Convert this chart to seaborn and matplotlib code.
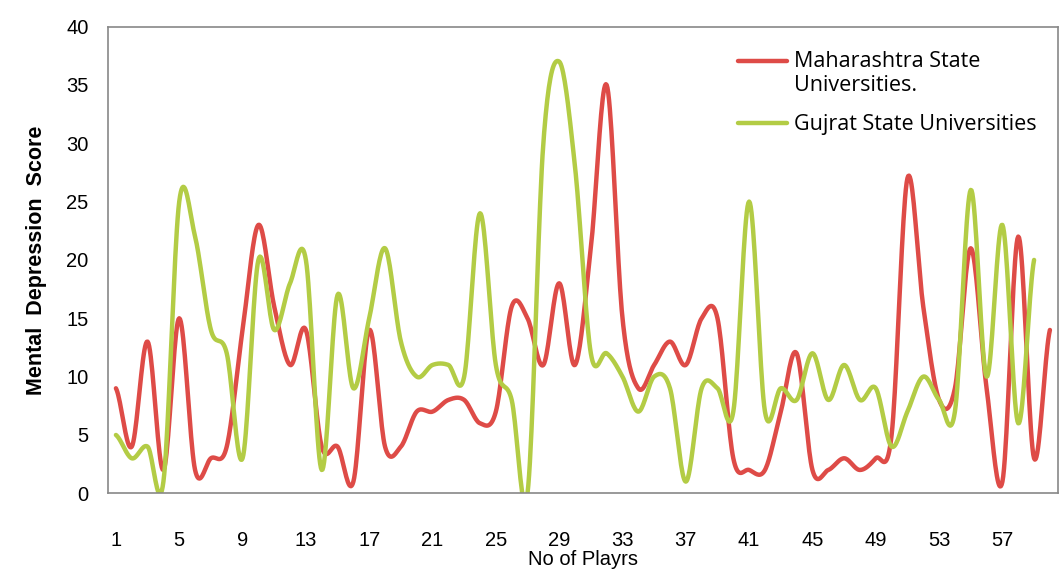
import numpy as np
import pandas as pd
import matplotlib
matplotlib.use("Agg")
import matplotlib.pyplot as plt
import seaborn as sns

# scores, one per player
maharashtra = [9, 4, 13, 2, 15, 2, 3, 4, 14, 23,
               16, 11, 14, 4, 4, 1, 14, 4, 4, 7,
               7, 8, 8, 6, 7, 16, 15, 11, 18, 11,
               21, 35, 15, 9, 11, 13, 11, 15, 15, 3,
               2, 2, 7, 12, 2, 2, 3, 2, 3, 5,
               27, 16, 8, 9, 21, 9, 1, 22, 3, 14]
gujrat = [5, 3, 4, 1, 25, 22, 14, 12, 3, 20,
          14, 18, 20, 2, 17, 9, 15, 21, 13, 10,
          11, 11, 10, 24, 11, 8, 0, 30, 37, 28,
          12, 12, 10, 7, 10, 9, 1, 9, 9, 7,
          25, 7, 9, 8, 12, 8, 11, 8, 9, 4,
          7, 10, 8, 7, 26, 10, 23, 6, 20]
series_names = ["Maharashtra State\nUniversities.", "Gujrat State Universities"]
x_tick_labels = list(range(1, 58, 4))


def smooth(values, steps=20):
    # bezier smoothing like the spreadsheet "smoothed line" option
    y = np.asarray(values, dtype=float)
    yp = np.concatenate([[y[0]], y, [y[-1]]])
    xs, ys = [], []
    t = np.linspace(0, 1, steps, endpoint=False)
    for i in range(len(y) - 1):
        p0 = yp[i + 1]
        p3 = yp[i + 2]
        p1 = p0 + (yp[i + 2] - yp[i]) / 6
        p2 = p3 - (yp[i + 3] - yp[i + 1]) / 6
        ys.extend((1 - t) ** 3 * p0 + 3 * (1 - t) ** 2 * t * p1 + 3 * (1 - t) * t ** 2 * p2 + t ** 3 * p3)
        xs.extend(i + 1 + t)
    xs.append(len(y))
    ys.append(y[-1])
    return xs, ys


frames = []
for name, vals in zip(series_names, [maharashtra, gujrat]):
    xs, ys = smooth(vals)
    frames.append(pd.DataFrame({"player": xs, "score": ys, "series": name}))
df = pd.concat(frames, ignore_index=True)

sns.set_style("white")
plt.rcParams['font.family'] = ['Liberation Sans', 'DejaVu Sans']
plt.rcParams['text.color'] = 'black'
plt.rcParams['axes.labelcolor'] = 'black'
plt.rcParams['xtick.labelcolor'] = 'black'
plt.rcParams['ytick.labelcolor'] = 'black'

fig = plt.figure(figsize=(10.61, 5.74), dpi=100)
ax = fig.add_axes([0.1018, 0.1406, 0.8952, 0.8131])

sns.lineplot(data=df, x="player", y="score", hue="series", sort=False,
             palette=["#DE4B47", "#B3CC45"], linewidth=3.2, ax=ax)

ax.set_xlim(0.5, 60.5)
ax.set_ylim(0, 40)
ax.set_yticks(range(0, 41, 5))
ax.set_xticks(x_tick_labels)
ax.set_xticklabels([str(v) for v in x_tick_labels])
ax.set_xticks(np.arange(0.5, 61, 4), minor=True)
ax.tick_params(axis="x", which="major", length=0, pad=27, labelsize=14.5)
ax.tick_params(axis="x", which="minor", length=8, width=1, color="#888888", direction="out")
ax.tick_params(axis="y", length=6, width=1, color="#888888", direction="out", labelsize=14.5, pad=8)

for side in ["left", "bottom", "top", "right"]:
    ax.spines[side].set_color("#888888")
    ax.spines[side].set_linewidth(1.2)

ax.set_xlabel("No of Playrs", fontsize=14.5, labelpad=0)
ax.set_ylabel("Mental  Depression  Score", fontsize=15.5, fontweight="bold", labelpad=14)

leg = ax.legend(loc="upper right", bbox_to_anchor=(0.998, 0.99), frameon=False,
                handlelength=2.3, handletextpad=0.3, labelspacing=0.85,
                prop={'family': ['Open Sans', 'DejaVu Sans'], 'size': 15.5})
for txt in leg.get_texts():
    txt.set_color("black")
for i, line in enumerate(leg.get_lines()):
    line.set_linewidth(3.2)
    if i == 0:
        # keep the red key level with the first text line
        line.set_ydata(np.asarray(line.get_ydata()) + 9)

fig.savefig("out.png", dpi=100)
